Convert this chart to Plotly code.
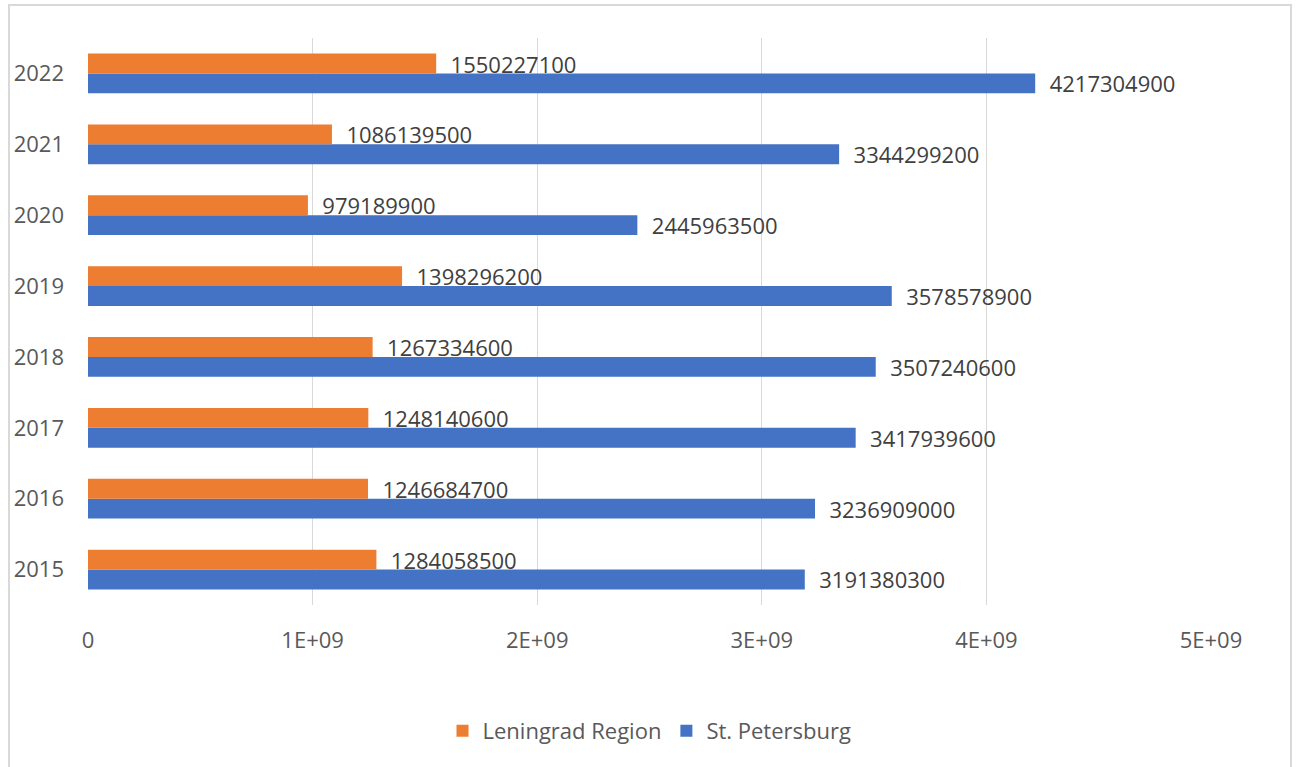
import plotly.graph_objects as go

years = ["2015", "2016", "2017", "2018", "2019", "2020", "2021", "2022"]
leningrad = [1284058500, 1246684700, 1248140600, 1267334600, 1398296200, 979189900, 1086139500, 1550227100]
spb = [3191380300, 3236909000, 3417939600, 3507240600, 3578578900, 2445963500, 3344299200, 4217304900]
x_tickvals = [0, 1e9, 2e9, 3e9, 4e9, 5e9]
x_ticktext = ["0", "1E+09", "2E+09", "3E+09", "4E+09", "5E+09"]

FONT = "Open Sans, Liberation Sans, sans-serif"
GRAY = "#595959"
FS = 22

fig = go.Figure()
fig.add_trace(go.Bar(
    y=years, x=spb, orientation="h", name="St. Petersburg",
    marker=dict(color="#4472C4", line=dict(width=0)),
    text=[str(v) for v in spb], texttemplate="  %{text}", textposition="outside",
    constraintext="none",
    textfont=dict(family=FONT, size=FS, color="#404040"), cliponaxis=False,
))
fig.add_trace(go.Bar(
    y=years, x=leningrad, orientation="h", name="Leningrad Region",
    marker=dict(color="#ED7D31", line=dict(width=0)),
    text=[str(v) for v in leningrad], texttemplate="  %{text}", textposition="outside",
    constraintext="none",
    textfont=dict(family=FONT, size=FS, color="#404040"), cliponaxis=False,
))

fig.update_layout(
    width=1296, height=767,
    barmode="group", bargap=0.44, bargroupgap=0,
    plot_bgcolor="white", paper_bgcolor="white",
    margin=dict(l=88, r=85, t=38, b=162, autoexpand=False),
    font=dict(family=FONT, size=FS, color=GRAY),
    showlegend=True,
    legend=dict(orientation="h", x=0.5, xanchor="center", y=-0.185, yanchor="top",
                traceorder="reversed", font=dict(family=FONT, size=FS, color=GRAY),
                itemwidth=30),
    uniformtext=dict(mode=False),
    shapes=[dict(type="rect", xref="paper", yref="paper",
                 x0=(9 - 88) / 1123, x1=(1291 - 88) / 1123,
                 y0=(605 - 800) / 567, y1=(605 - 5) / 567,
                 line=dict(color="#d9d9d9", width=2), fillcolor="rgba(0,0,0,0)", layer="below")],
)
fig.update_xaxes(range=[0, 5e9], tickvals=x_tickvals, ticktext=x_ticktext,
                 showgrid=True, gridcolor="#d9d9d9", gridwidth=1,
                 zeroline=False, showline=False, ticks="", ticklabelstandoff=20,
                 tickfont=dict(family=FONT, size=FS, color=GRAY))
fig.update_yaxes(type="category", categoryorder="array", categoryarray=years,
                 showgrid=False, zeroline=False, showline=False, ticks="",
                 ticklabelstandoff=23, tickfont=dict(family=FONT, size=FS, color=GRAY))

fig.write_html("out.html")
